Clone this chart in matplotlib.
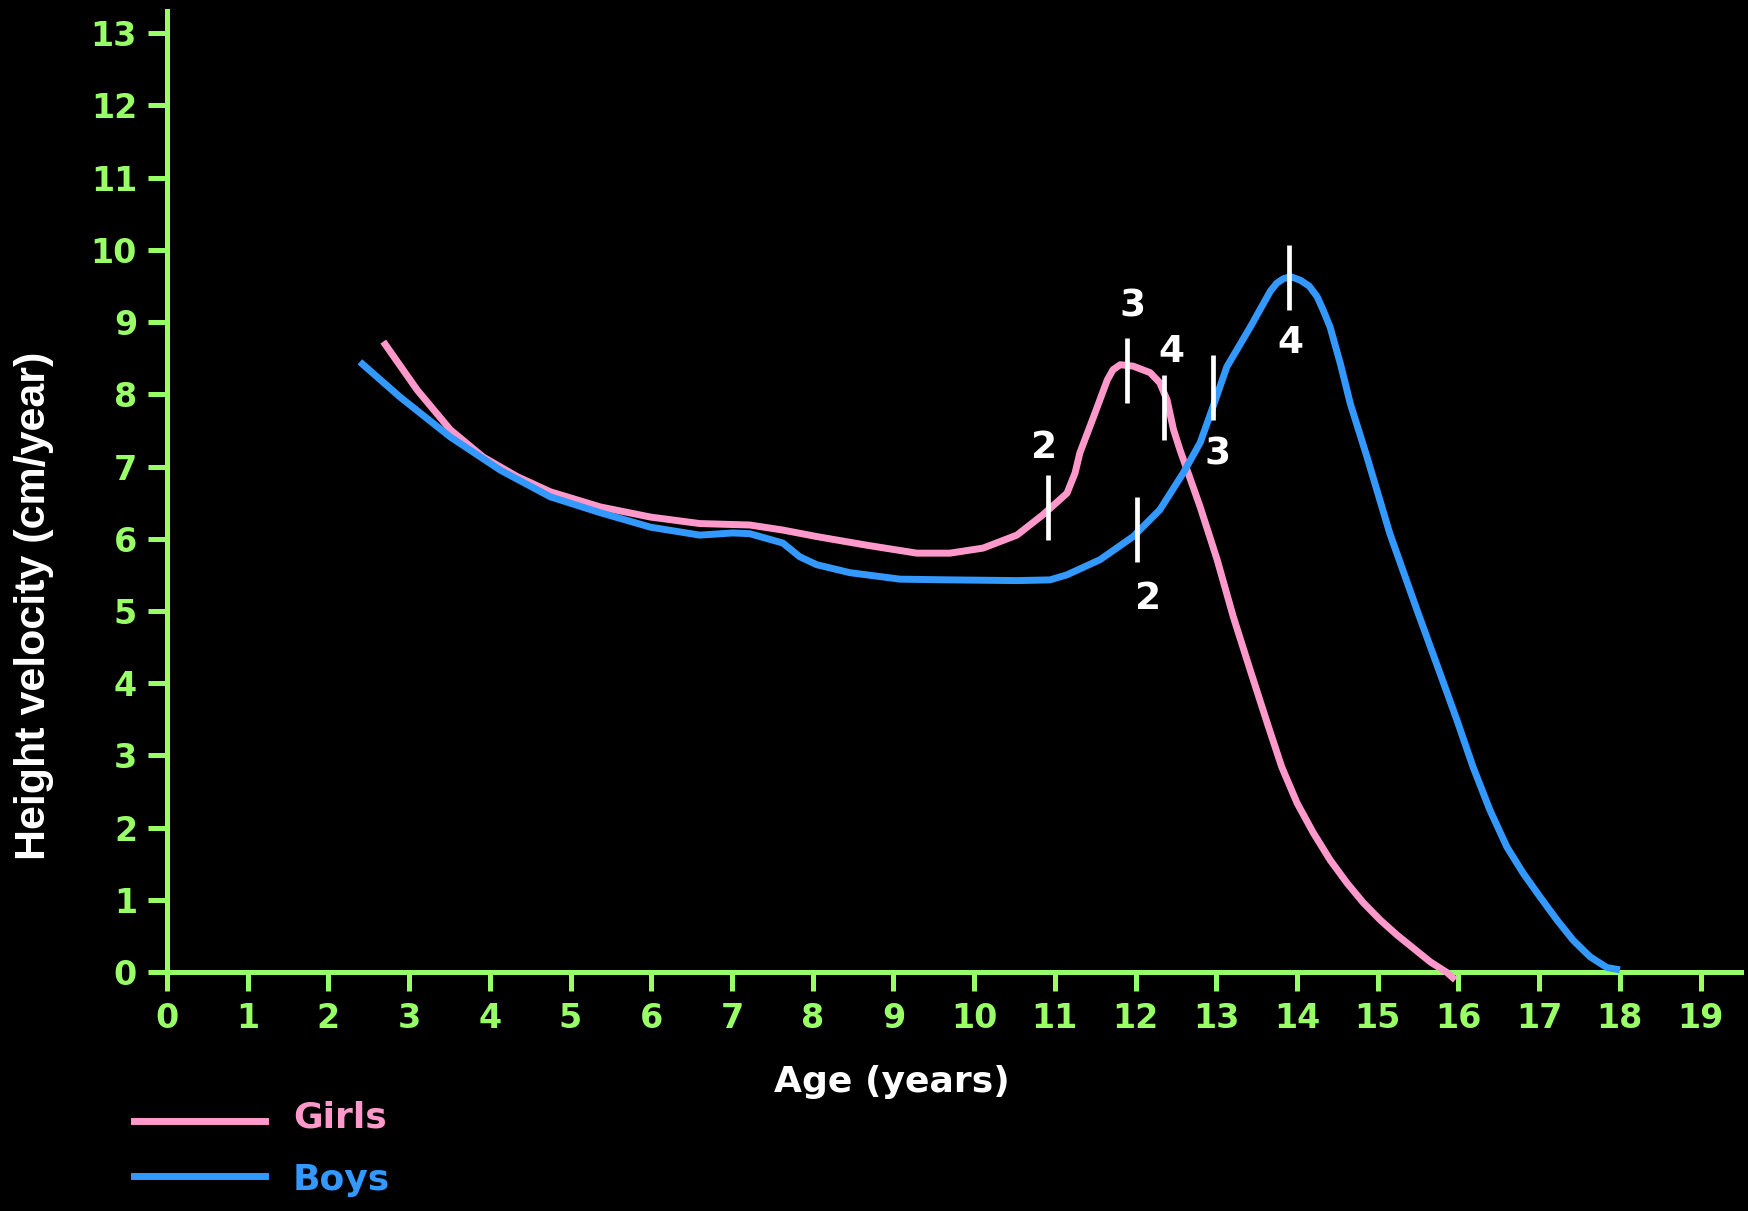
import matplotlib.pyplot as plt

# Curvas de velocidad de crecimiento (cm/año)
girls_age = [2.68, 3.1, 3.51, 3.92, 4.34, 4.75, 5.37, 5.99, 6.6, 7.22, 7.63, 8.05,
             8.67, 9.29, 9.7, 10.11, 10.53, 10.85, 11.15, 11.25, 11.31, 11.48,
             11.65, 11.72, 11.81, 11.97, 12.18, 12.3, 12.39, 12.47, 12.55, 12.8, 13.01,
             13.21, 13.42, 13.63, 13.81, 14.0, 14.2, 14.41, 14.62, 14.82, 15.03,
             15.24, 15.44, 15.65, 15.86, 15.96]
girls_vel = [8.73, 8.06, 7.51, 7.13, 6.86, 6.65, 6.44, 6.30, 6.21, 6.19, 6.12, 6.03,
             5.91, 5.80, 5.80, 5.87, 6.05, 6.33, 6.63, 6.91, 7.19, 7.69,
             8.2, 8.34, 8.41, 8.39, 8.30, 8.16, 7.92, 7.51, 7.23, 6.44, 5.71,
             4.92, 4.18, 3.45, 2.84, 2.34, 1.93, 1.55, 1.23, 0.96, 0.72,
             0.51, 0.33, 0.14, -0.01, -0.11]

boys_age = [2.39, 2.89, 3.51, 4.13, 4.75, 5.37, 5.99, 6.6, 7.01, 7.22, 7.63, 7.84,
            8.05, 8.46, 9.08, 9.7, 10.53, 10.94, 11.15, 11.56, 11.97, 12.3, 12.59,
            12.8, 12.96, 13.13, 13.42, 13.67, 13.75, 13.83, 13.92, 14.04, 14.15,
            14.25, 14.33, 14.41, 14.54, 14.66, 14.87, 15.15, 15.49, 15.77, 15.98,
            16.18, 16.39, 16.6, 16.8, 17.01, 17.22, 17.42, 17.63, 17.84, 18.0]
boys_vel = [8.45, 7.96, 7.41, 6.95, 6.58, 6.36, 6.16, 6.05, 6.08, 6.07, 5.94, 5.75,
            5.64, 5.53, 5.44, 5.43, 5.42, 5.43, 5.50, 5.71, 6.03, 6.40, 6.91,
            7.33, 7.83, 8.38, 8.93, 9.43, 9.54, 9.6, 9.63, 9.58, 9.5,
            9.35, 9.15, 8.93, 8.41, 7.87, 7.12, 6.07, 5.0, 4.14, 3.49,
            2.84, 2.24, 1.73, 1.37, 1.04, 0.72, 0.44, 0.21, 0.06, 0.03]

# Marcas de estadios puberales (posición, extremo inferior y superior, etiqueta)
girls_stage_x = [10.92, 11.89, 12.35]
girls_stage_lo = [5.98, 7.88, 7.37]
girls_stage_hi = [6.88, 8.78, 8.27]
girls_stage_lbl = ['2', '3', '4']
girls_lbl_x = [10.87, 11.96, 12.44]
girls_lbl_y = [7.26, 9.21, 8.59]

boys_stage_x = [12.02, 12.96, 13.9]
boys_stage_lo = [5.68, 7.65, 9.17]
boys_stage_hi = [6.58, 8.55, 10.07]
boys_stage_lbl = ['2', '3', '4']
boys_lbl_x = [12.16, 13.02, 13.92]
boys_lbl_y = [5.17, 7.16, 8.71]

x_ticks = list(range(0, 20))
y_ticks = list(range(0, 14))

PINK = '#FF99CC'
BLUE = '#3399FF'
GREEN = '#99FF66'

fig = plt.figure(figsize=(17.48, 12.11), dpi=100, facecolor='black')
ax = fig.add_axes([0.0955, 0.1974, 0.9005, 0.7936], facecolor='black')

ax.plot(girls_age, girls_vel, color=PINK, lw=5, solid_capstyle='butt',
        solid_joinstyle='round', clip_on=False, zorder=3)
ax.plot(boys_age, boys_vel, color=BLUE, lw=5, solid_capstyle='butt',
        solid_joinstyle='round', clip_on=False, zorder=3)

# Marcas de estadios
for xs, lo, hi, lbl, lx, ly in [
        (girls_stage_x, girls_stage_lo, girls_stage_hi, girls_stage_lbl, girls_lbl_x, girls_lbl_y),
        (boys_stage_x, boys_stage_lo, boys_stage_hi, boys_stage_lbl, boys_lbl_x, boys_lbl_y)]:
    ax.vlines(xs, lo, hi, color='white', lw=3.4, zorder=4)
    for t, tx, ty in zip(lbl, lx, ly):
        ax.text(tx, ty, t, color='white', fontsize=27, fontweight='bold',
                ha='center', va='center', zorder=5)

ax.set_xlim(0, 19.5)
ax.set_ylim(0, 13.31)
ax.set_xticks(x_ticks)
ax.set_yticks(y_ticks)

for s in ['top', 'right']:
    ax.spines[s].set_visible(False)
for s in ['left', 'bottom']:
    ax.spines[s].set_color(GREEN)
    ax.spines[s].set_linewidth(3.6)

ax.tick_params(axis='both', colors=GREEN, width=3.6, length=13.5, direction='out',
               labelsize=24, pad=8)
for lab in ax.get_xticklabels() + ax.get_yticklabels():
    lab.set_fontweight('bold')

ax.set_xlabel('Age (years)', color='white', fontsize=26, fontweight='bold')
ax.xaxis.set_label_coords(0.4606, -0.097)
fig.text(0.0195, 0.4996, 'Height velocity (cm/year)', color='white', fontsize=31,
         fontweight='bold', family='Liberation Sans', rotation=90,
         ha='center', va='center')

# Leyenda manual
fig.add_artist(plt.Line2D([134 / 1748, 265 / 1748], [1 - 1121 / 1211] * 2,
                          color=PINK, lw=5))
fig.add_artist(plt.Line2D([134 / 1748, 265 / 1748], [1 - 1176 / 1211] * 2,
                          color=BLUE, lw=5))
fig.text(293 / 1748, 1 - 1118 / 1211, 'Girls', color=PINK, fontsize=26,
         fontweight='bold', va='center')
fig.text(293 / 1748, 1 - 1180 / 1211, 'Boys', color=BLUE, fontsize=26,
         fontweight='bold', va='center')

plt.savefig('out.png', dpi=100, facecolor='black')
